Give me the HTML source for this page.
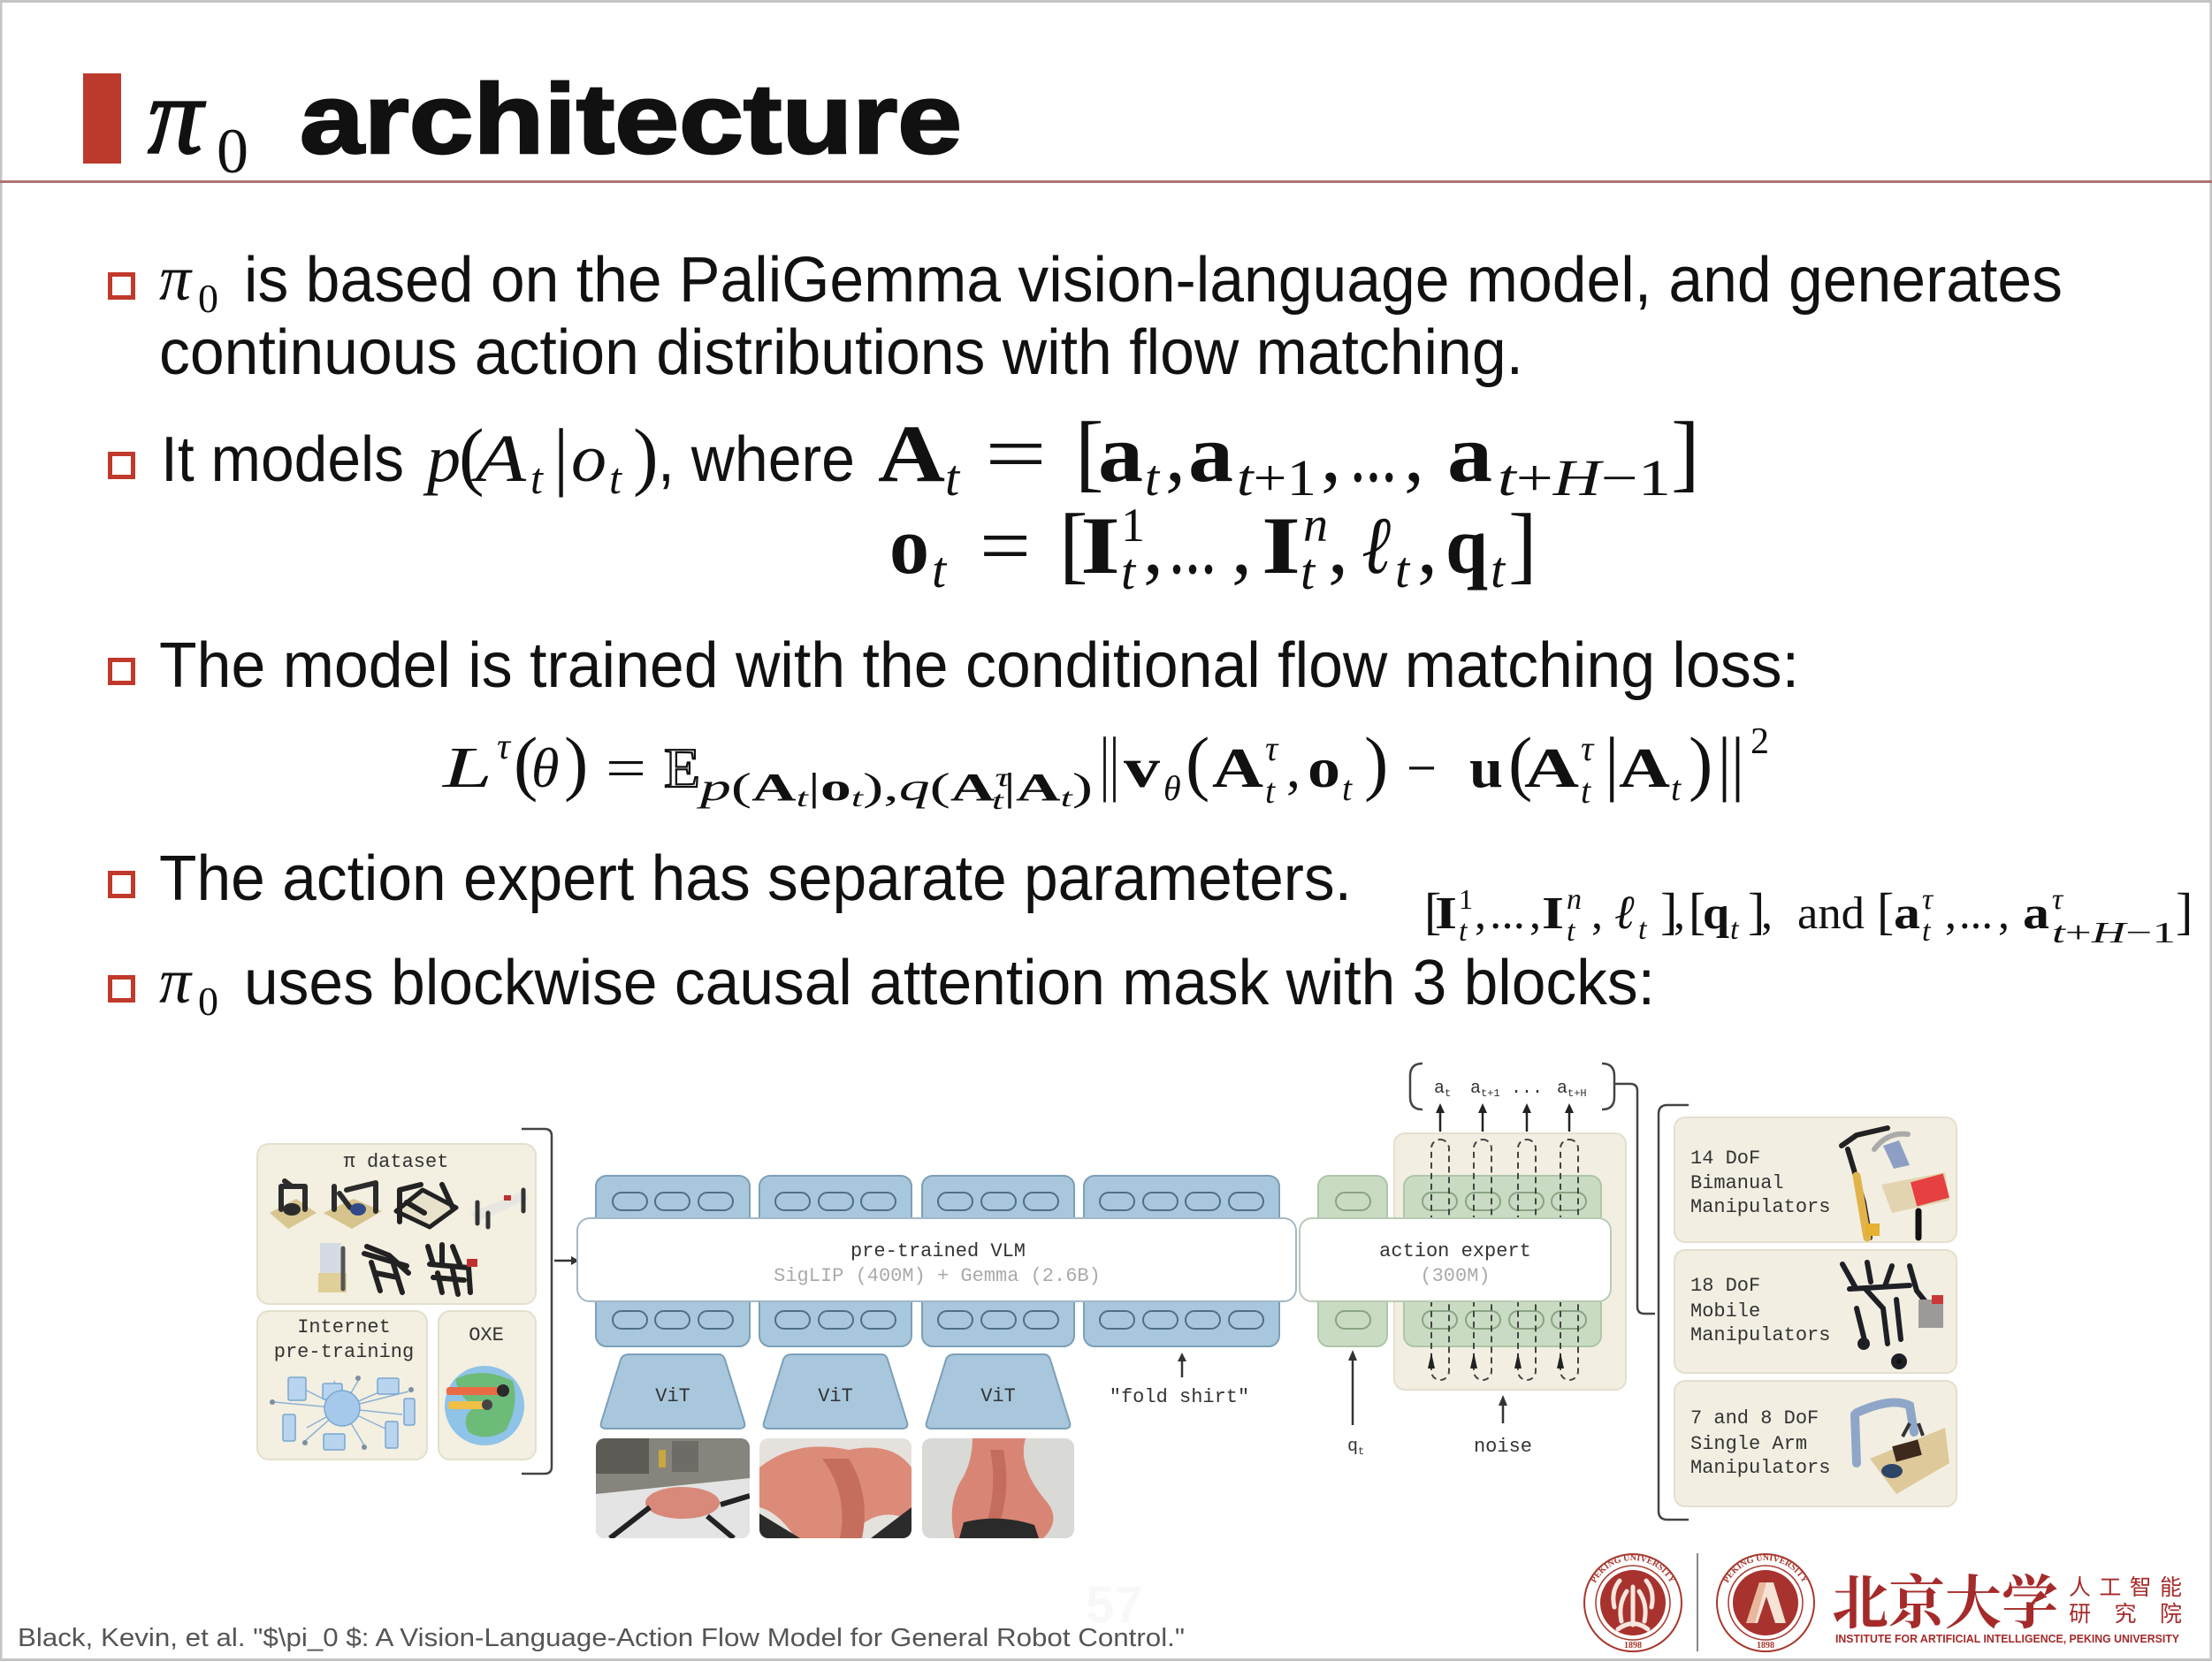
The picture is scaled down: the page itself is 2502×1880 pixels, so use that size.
<!DOCTYPE html>
<html><head><meta charset="utf-8"><style>
html,body{margin:0;padding:0;background:#fff;}
svg{display:block;}
.s{font-family:"Liberation Sans",sans-serif;font-size:72px;fill:#111;}
.m{font-family:"Liberation Serif",serif;fill:#111;}
.i{font-style:italic;}
.b{font-weight:bold;}
.mono{font-family:"Liberation Mono","DejaVu Sans Mono",monospace;font-size:22px;fill:#333;}
</style></head><body>
<svg width="2502" height="1880" viewBox="0 0 2502 1880" xmlns="http://www.w3.org/2000/svg">
<defs>
<clipPath id="c1"><rect x="674" y="1627" width="174" height="113" rx="10"/></clipPath>
<clipPath id="c2"><rect x="859" y="1627" width="172" height="113" rx="10"/></clipPath>
<clipPath id="c3"><rect x="1043" y="1627" width="172" height="113" rx="10"/></clipPath>
<path id="arc1" d="M1799,1813 A48,48 0 0 1 1895,1813"/>
<path id="arc2" d="M1949,1813 A48,48 0 0 1 2045,1813"/>
</defs>
<rect x="0" y="0" width="2502" height="1880" fill="#fff"/>
<rect x="1" y="1.5" width="2500" height="1876" fill="none" stroke="#c4c4c4" stroke-width="3"/>

<!-- Title -->
<rect x="94" y="83" width="43" height="102" fill="#bb3a2c"/>
<text class="m i" x="167" y="173" font-size="125" stroke="#111" stroke-width="2">π</text>
<text class="m" x="245" y="195" font-size="72">0</text>
<text x="339" y="173" font-family="Liberation Sans,sans-serif" font-weight="bold" font-size="112" fill="#111" stroke="#111" stroke-width="2.5" textLength="749" lengthAdjust="spacingAndGlyphs">architecture</text>
<rect x="0" y="204" width="2502" height="3" fill="#ad7474"/>

<!-- bullets -->
<g fill="none" stroke="#c0392b" stroke-width="5">
<rect x="124.5" y="310.5" width="26" height="26"/>
<rect x="124.5" y="513.5" width="26" height="26"/>
<rect x="124.5" y="746.5" width="26" height="26"/>
<rect x="124.5" y="987.5" width="26" height="26"/>
<rect x="124.5" y="1105.5" width="26" height="26"/>
</g>

<!-- bullet 1 -->
<text class="m i" x="180" y="339" font-size="72">π</text>
<text class="m" x="224" y="353" font-size="46">0</text>
<text class="s" x="276" y="341" textLength="2057" lengthAdjust="spacingAndGlyphs">is based on the PaliGemma vision-language model, and generates</text>
<text class="s" x="180" y="423" textLength="1543" lengthAdjust="spacingAndGlyphs">continuous action distributions with flow matching.</text>

<!-- bullet 2 -->
<text class="s" x="182" y="544" textLength="275" lengthAdjust="spacingAndGlyphs">It models</text>
<g class="m">
<text class="i" x="483" y="544" font-size="76">p</text>
<text x="519" y="544" font-size="86">(</text>
<text class="i" x="538" y="544" font-size="76" textLength="57" lengthAdjust="spacingAndGlyphs">A</text>
<text class="i" x="600" y="558" font-size="50">t</text>
<text x="626" y="544" font-size="86">|</text>
<text class="i" x="646" y="544" font-size="76" textLength="40" lengthAdjust="spacingAndGlyphs">o</text>
<text class="i" x="689" y="558" font-size="50">t</text>
<text x="716" y="544" font-size="86">)</text>
</g>
<text class="s" x="744" y="544" textLength="223" lengthAdjust="spacingAndGlyphs">, where</text>
<g class="m">
<text class="b" x="993" y="544" font-size="92" textLength="76" lengthAdjust="spacingAndGlyphs">A</text>
<text class="i" x="1069" y="560" font-size="58">t</text>
<text x="1114" y="544" font-size="92" textLength="70" lengthAdjust="spacingAndGlyphs">=</text>
<text x="1216" y="544" font-size="98">[</text>
<text class="b" x="1242" y="544" font-size="92" textLength="51" lengthAdjust="spacingAndGlyphs">a</text>
<text class="i" x="1295" y="560" font-size="58">t</text>
<text x="1318" y="544" font-size="92">,</text>
<text class="b" x="1344" y="544" font-size="92" textLength="51" lengthAdjust="spacingAndGlyphs">a</text>
<text x="1399" y="560" font-size="58" textLength="90" lengthAdjust="spacingAndGlyphs"><tspan class="i">t</tspan>+1</text>
<text x="1494" y="544" font-size="92">,</text>
<text x="1527" y="544" font-size="92" textLength="53" lengthAdjust="spacingAndGlyphs">...</text>
<text x="1588" y="544" font-size="92">,</text>
<text class="b" x="1637" y="544" font-size="92" textLength="51" lengthAdjust="spacingAndGlyphs">a</text>
<text x="1694" y="560" font-size="58" textLength="196" lengthAdjust="spacingAndGlyphs"><tspan class="i">t</tspan>+<tspan class="i">H</tspan>−1</text>
<text x="1890" y="544" font-size="98">]</text>

<!-- o_t line -->
<text class="b" x="1006" y="648" font-size="92" textLength="45" lengthAdjust="spacingAndGlyphs">o</text>
<text class="i" x="1054" y="664" font-size="58">t</text>
<text x="1108" y="648" font-size="92" textLength="58" lengthAdjust="spacingAndGlyphs">=</text>
<text x="1198" y="648" font-size="98">[</text>
<text class="b" x="1222" y="648" font-size="92" textLength="45" lengthAdjust="spacingAndGlyphs">I</text>
<text x="1268" y="612" font-size="54">1</text>
<text class="i" x="1268" y="666" font-size="58">t</text>
<text x="1293" y="648" font-size="92">,</text>
<text x="1322" y="648" font-size="92" textLength="54" lengthAdjust="spacingAndGlyphs">...</text>
<text x="1393" y="648" font-size="92">,</text>
<text class="b" x="1427" y="648" font-size="92" textLength="44" lengthAdjust="spacingAndGlyphs">I</text>
<text class="i" x="1474" y="612" font-size="56">n</text>
<text class="i" x="1471" y="666" font-size="58">t</text>
<text x="1502" y="648" font-size="92">,</text>
<text class="i" x="1540" y="648" font-size="92" textLength="33" lengthAdjust="spacingAndGlyphs">ℓ</text>
<text class="i" x="1578" y="664" font-size="58">t</text>
<text x="1603" y="648" font-size="92">,</text>
<text class="b" x="1635" y="648" font-size="92" textLength="48" lengthAdjust="spacingAndGlyphs">q</text>
<text class="i" x="1686" y="664" font-size="58">t</text>
<text x="1706" y="648" font-size="98">]</text>
</g>

<!-- bullet 3 -->
<text class="s" x="180" y="777" textLength="1855" lengthAdjust="spacingAndGlyphs">The model is trained with the conditional flow matching loss:</text>

<!-- loss formula -->
<g class="m">
<text class="i" x="501" y="890" font-size="66" textLength="56" lengthAdjust="spacingAndGlyphs">L</text>
<text class="i" x="562" y="858" font-size="42">τ</text>
<text x="581" y="890" font-size="82">(</text>
<text class="i" x="601" y="890" font-size="64">θ</text>
<text x="638" y="890" font-size="82">)</text>
<text x="685" y="890" font-size="64" textLength="46" lengthAdjust="spacingAndGlyphs">=</text>
<text x="751" y="890" font-size="64" fill="#fff" stroke="#111" stroke-width="2.2" textLength="41" lengthAdjust="spacingAndGlyphs">E</text>
<text x="792" y="905" font-size="44" textLength="444" lengthAdjust="spacingAndGlyphs"><tspan class="i">p</tspan>(<tspan class="b">A</tspan><tspan class="i" font-size="30" dy="7">t</tspan><tspan dy="-7">|</tspan><tspan class="b">o</tspan><tspan class="i" font-size="30" dy="7">t</tspan><tspan dy="-7">),</tspan><tspan class="i">q</tspan>(<tspan class="b">A</tspan><tspan class="i" font-size="30" dy="-16">τ</tspan><tspan class="i" font-size="30" dy="26" dx="-13">t</tspan><tspan dy="-10">|</tspan><tspan class="b">A</tspan><tspan class="i" font-size="30" dy="7">t</tspan><tspan dy="-7">)</tspan></text>
<text x="1244" y="890" font-size="82" textLength="22" lengthAdjust="spacingAndGlyphs">||</text>
<text class="b" x="1271" y="890" font-size="64" textLength="41" lengthAdjust="spacingAndGlyphs">v</text>
<text class="i" x="1316" y="905" font-size="40">θ</text>
<text x="1341" y="890" font-size="82">(</text>
<text class="b" x="1371" y="890" font-size="64" textLength="58" lengthAdjust="spacingAndGlyphs">A</text>
<text class="i" x="1431" y="860" font-size="40">τ</text>
<text class="i" x="1431" y="908" font-size="40">t</text>
<text x="1455" y="890" font-size="64">,</text>
<text class="b" x="1479" y="890" font-size="64" textLength="37" lengthAdjust="spacingAndGlyphs">o</text>
<text class="i" x="1518" y="905" font-size="40">t</text>
<text x="1543" y="890" font-size="82">)</text>
<text x="1591" y="890" font-size="64" textLength="34" lengthAdjust="spacingAndGlyphs">−</text>
<text class="b" x="1662" y="890" font-size="64" textLength="38" lengthAdjust="spacingAndGlyphs">u</text>
<text x="1706" y="890" font-size="82">(</text>
<text class="b" x="1724" y="890" font-size="64" textLength="62" lengthAdjust="spacingAndGlyphs">A</text>
<text class="i" x="1788" y="860" font-size="40">τ</text>
<text class="i" x="1788" y="908" font-size="40">t</text>
<text x="1815" y="890" font-size="82">|</text>
<text class="b" x="1831" y="890" font-size="64" textLength="58" lengthAdjust="spacingAndGlyphs">A</text>
<text class="i" x="1890" y="905" font-size="40">t</text>
<text x="1910" y="890" font-size="82">)</text>
<text x="1943" y="890" font-size="82" textLength="30" lengthAdjust="spacingAndGlyphs">||</text>
<text x="1980" y="852" font-size="42">2</text>
</g>

<!-- bullet 4 -->
<text class="s" x="180" y="1018" textLength="1349" lengthAdjust="spacingAndGlyphs">The action expert has separate parameters.</text>
<g class="m">
<text x="1611" y="1050" font-size="58">[</text>
<text class="b" x="1623" y="1050" font-size="52" textLength="25" lengthAdjust="spacingAndGlyphs">I</text>
<text x="1650" y="1028" font-size="32">1</text>
<text class="i" x="1650" y="1064" font-size="34">t</text>
<text x="1668" y="1050" font-size="52">,</text>
<text x="1685" y="1050" font-size="52" textLength="40" lengthAdjust="spacingAndGlyphs">...</text>
<text x="1730" y="1050" font-size="52">,</text>
<text class="b" x="1744" y="1050" font-size="52" textLength="25" lengthAdjust="spacingAndGlyphs">I</text>
<text class="i" x="1772" y="1028" font-size="34">n</text>
<text class="i" x="1772" y="1064" font-size="34">t</text>
<text x="1800" y="1050" font-size="52">,</text>
<text class="i" x="1826" y="1050" font-size="54">ℓ</text>
<text class="i" x="1853" y="1062" font-size="34">t</text>
<text x="1878" y="1050" font-size="58">]</text>
<text x="1893" y="1050" font-size="52">,</text>
<text x="1910" y="1050" font-size="58">[</text>
<text class="b" x="1926" y="1050" font-size="52" textLength="30" lengthAdjust="spacingAndGlyphs">q</text>
<text class="i" x="1957" y="1062" font-size="34">t</text>
<text x="1977" y="1050" font-size="58">]</text>
<text x="1992" y="1050" font-size="52">,</text>
<text x="2033" y="1050" font-size="52" textLength="76" lengthAdjust="spacingAndGlyphs">and</text>
<text x="2123" y="1050" font-size="58">[</text>
<text class="b" x="2142" y="1050" font-size="52" textLength="30" lengthAdjust="spacingAndGlyphs">a</text>
<text class="i" x="2174" y="1028" font-size="34">τ</text>
<text class="i" x="2174" y="1064" font-size="34">t</text>
<text x="2200" y="1050" font-size="52">,</text>
<text x="2216" y="1050" font-size="52" textLength="38" lengthAdjust="spacingAndGlyphs">...</text>
<text x="2260" y="1050" font-size="52">,</text>
<text class="b" x="2288" y="1050" font-size="52" textLength="30" lengthAdjust="spacingAndGlyphs">a</text>
<text class="i" x="2321" y="1028" font-size="34">τ</text>
<text x="2321" y="1066" font-size="34" textLength="140" lengthAdjust="spacingAndGlyphs"><tspan class="i">t</tspan>+<tspan class="i">H</tspan>−1</text>
<text x="2461" y="1050" font-size="58">]</text>
</g>

<!-- bullet 5 -->
<text class="m i" x="180" y="1134" font-size="72">π</text>
<text class="m" x="224" y="1148" font-size="46">0</text>
<text class="s" x="276" y="1136" textLength="1596" lengthAdjust="spacingAndGlyphs">uses blockwise causal attention mask with 3 blocks:</text>

<!-- ===== Diagram: left panel ===== -->
<g stroke="#e4dfcc" stroke-width="2" fill="#f3efe1">
<rect x="291" y="1294" width="315" height="181" rx="13"/>
<rect x="291" y="1483" width="192" height="168" rx="13"/>
<rect x="496" y="1483" width="110" height="168" rx="13"/>
</g>
<text class="mono" x="448" y="1320" text-anchor="middle">π dataset</text>
<text class="mono" x="389" y="1507" text-anchor="middle">Internet</text>
<text class="mono" x="389" y="1535" text-anchor="middle">pre-training</text>
<text class="mono" x="550" y="1516" text-anchor="middle">OXE</text>

<!-- robots in pi dataset -->
<g stroke-linecap="round" stroke-linejoin="round">
 <polygon points="305,1372 335,1356 358,1372 326,1390" fill="#d8c690"/>
 <path d="M318,1368 V1342 H345 V1368 M330,1342 L322,1336" stroke="#2c2c2c" stroke-width="6" fill="none"/>
 <ellipse cx="330" cy="1368" rx="10" ry="7" fill="#2c2c2c"/>
 <polygon points="366,1372 400,1356 432,1370 398,1390" fill="#d6c48c"/>
 <path d="M378,1368 V1342 M392,1346 L425,1338 V1370 M384,1350 L396,1366" stroke="#2c2c2c" stroke-width="6" fill="none"/>
 <ellipse cx="405" cy="1368" rx="9" ry="7" fill="#334a8a"/>
 <polygon points="448,1370 478,1346 516,1366 486,1388" fill="#e8e2cc" stroke="#222" stroke-width="5"/>
 <path d="M452,1382 V1346 L476,1340 M500,1340 L512,1366 M460,1360 L480,1372" stroke="#222" stroke-width="6" fill="none"/>
 <polygon points="532,1372 590,1348 598,1356 540,1382" fill="#e8e6e0"/>
 <path d="M540,1384 V1360 M592,1346 V1370 M552,1372 V1388" stroke="#333" stroke-width="5" fill="none"/>
 <rect x="570" y="1352" width="8" height="6" fill="#c03030"/>
 <rect x="362" y="1406" width="24" height="40" fill="#d6dbe3"/>
 <rect x="360" y="1440" width="32" height="22" fill="#e0cf98"/>
 <path d="M388,1412 V1458" stroke="#555" stroke-width="5"/>
 <path d="M415,1410 L440,1420 L462,1440 M420,1428 L430,1460 M445,1430 L455,1462 M412,1418 L460,1432 M425,1440 L450,1445" stroke="#222" stroke-width="6" fill="none"/>
 <path d="M484,1410 L490,1430 M500,1408 V1430 M512,1410 L520,1430 M486,1430 L530,1434 L532,1462 M495,1440 L500,1462 M512,1436 L518,1464 M490,1445 L525,1448" stroke="#222" stroke-width="6" fill="none"/>
 <rect x="528" y="1424" width="12" height="9" fill="#c03030"/>
</g>

<!-- internet network -->
<g stroke="#8cb2d4" stroke-width="1.5" fill="none">
 <line x1="387" y1="1593" x2="310" y2="1586"/><line x1="387" y1="1593" x2="345" y2="1572"/>
 <line x1="387" y1="1593" x2="378" y2="1562"/><line x1="387" y1="1593" x2="405" y2="1562"/>
 <line x1="387" y1="1593" x2="440" y2="1570"/><line x1="387" y1="1593" x2="462" y2="1574"/>
 <line x1="387" y1="1593" x2="455" y2="1600"/><line x1="387" y1="1593" x2="347" y2="1615"/>
 <line x1="387" y1="1593" x2="345" y2="1630"/><line x1="387" y1="1593" x2="412" y2="1635"/>
 <line x1="387" y1="1593" x2="440" y2="1618"/>
</g>
<g fill="#b9d4ee" stroke="#79a7d1" stroke-width="1.5">
 <rect x="326" y="1558" width="20" height="26" rx="2"/>
 <rect x="365" y="1565" width="22" height="18" rx="2"/>
 <rect x="427" y="1559" width="24" height="18" rx="2"/>
 <rect x="457" y="1582" width="12" height="30" rx="2"/>
 <rect x="320" y="1600" width="14" height="30" rx="2"/>
 <rect x="366" y="1622" width="24" height="18" rx="2"/>
 <rect x="436" y="1608" width="14" height="30" rx="2"/>
 <circle cx="387" cy="1593" r="20" fill="#a6c8ea"/>
</g>
<g fill="#7d8fa0"><circle cx="308" cy="1586" r="3"/><circle cx="405" cy="1559" r="3"/><circle cx="465" cy="1572" r="3"/><circle cx="345" cy="1632" r="3"/><circle cx="412" cy="1637" r="3"/></g>

<!-- OXE globe -->
<circle cx="548" cy="1590" r="45" fill="#8fc3e8"/>
<path d="M515,1560 Q545,1545 580,1562 Q588,1590 572,1618 Q550,1632 530,1620 Q520,1600 540,1590 Q520,1585 515,1560Z" fill="#6dbb78"/>
<rect x="505" y="1569" width="65" height="9" rx="3" fill="#ea6a45"/>
<rect x="507" y="1585" width="42" height="9" rx="3" fill="#f0bf45"/>
<circle cx="569" cy="1573" r="7" fill="#2a2a2a"/>
<circle cx="551" cy="1589" r="6" fill="#444"/>

<!-- left bracket & arrow -->
<path d="M590,1277 H616 Q624,1277 624,1285 V1659 Q624,1667 616,1667 H590" fill="none" stroke="#444" stroke-width="2.5"/>
<line x1="627" y1="1426" x2="648" y2="1426" stroke="#333" stroke-width="2.5"/>
<polygon points="655,1426 646,1421 646,1431" fill="#333"/>

<!-- ===== VLM ===== -->
<g fill="#a9c7dc" stroke="#7c9fb8" stroke-width="2">
 <rect x="674" y="1330" width="174" height="193" rx="12"/>
 <rect x="859" y="1330" width="172" height="193" rx="12"/>
 <rect x="1043" y="1330" width="172" height="193" rx="12"/>
 <rect x="1226" y="1330" width="221" height="193" rx="12"/>
</g>
<g fill="none" stroke="#4f6f86" stroke-width="2">
 <rect x="693" y="1349" width="39" height="20" rx="10"/><rect x="741" y="1349" width="39" height="20" rx="10"/><rect x="790" y="1349" width="39" height="20" rx="10"/>
 <rect x="877" y="1349" width="39" height="20" rx="10"/><rect x="926" y="1349" width="39" height="20" rx="10"/><rect x="974" y="1349" width="39" height="20" rx="10"/>
 <rect x="1061" y="1349" width="39" height="20" rx="10"/><rect x="1110" y="1349" width="39" height="20" rx="10"/><rect x="1158" y="1349" width="39" height="20" rx="10"/>
 <rect x="1244" y="1349" width="39" height="20" rx="10"/><rect x="1293" y="1349" width="39" height="20" rx="10"/><rect x="1341" y="1349" width="39" height="20" rx="10"/><rect x="1390" y="1349" width="39" height="20" rx="10"/>
 <rect x="693" y="1483" width="39" height="20" rx="10"/><rect x="741" y="1483" width="39" height="20" rx="10"/><rect x="790" y="1483" width="39" height="20" rx="10"/>
 <rect x="877" y="1483" width="39" height="20" rx="10"/><rect x="926" y="1483" width="39" height="20" rx="10"/><rect x="974" y="1483" width="39" height="20" rx="10"/>
 <rect x="1061" y="1483" width="39" height="20" rx="10"/><rect x="1110" y="1483" width="39" height="20" rx="10"/><rect x="1158" y="1483" width="39" height="20" rx="10"/>
 <rect x="1244" y="1483" width="39" height="20" rx="10"/><rect x="1293" y="1483" width="39" height="20" rx="10"/><rect x="1341" y="1483" width="39" height="20" rx="10"/><rect x="1390" y="1483" width="39" height="20" rx="10"/>
</g>
<rect x="653" y="1378" width="813" height="94" rx="14" fill="#fff" stroke="#a3b8c8" stroke-width="2"/>
<text class="mono" x="1061" y="1421" text-anchor="middle">pre-trained VLM</text>
<text class="mono" x="1060" y="1449" text-anchor="middle" style="fill:#aaa">SigLIP (400M) + Gemma (2.6B)</text>

<!-- ViT -->
<g fill="#a9c7dc" stroke="#7c9fb8" stroke-width="2" stroke-linejoin="round">
 <path d="M718,1532 H813 Q818,1532 820,1538 L842,1609 Q844,1616 836,1616 H686 Q678,1616 680,1609 L702,1538 Q704,1532 712,1532Z"/>
 <path d="M902,1532 H997 Q1002,1532 1004,1538 L1026,1609 Q1028,1616 1020,1616 H870 Q862,1616 864,1609 L886,1538 Q888,1532 896,1532Z"/>
 <path d="M1086,1532 H1181 Q1186,1532 1188,1538 L1210,1609 Q1212,1616 1204,1616 H1054 Q1046,1616 1048,1609 L1070,1538 Q1072,1532 1080,1532Z"/>
</g>
<text class="mono" x="761" y="1585" text-anchor="middle">ViT</text>
<text class="mono" x="945" y="1585" text-anchor="middle">ViT</text>
<text class="mono" x="1129" y="1585" text-anchor="middle">ViT</text>

<!-- images -->
<g clip-path="url(#c1)">
 <rect x="674" y="1627" width="174" height="113" fill="#86847c"/>
 <rect x="674" y="1627" width="60" height="40" fill="#5c5b56"/>
 <rect x="760" y="1630" width="30" height="35" fill="#6e6c66"/>
 <rect x="745" y="1640" width="8" height="20" fill="#c9a640"/>
 <polygon points="674,1690 848,1672 848,1740 674,1740" fill="#e4e4e4"/>
 <ellipse cx="772" cy="1700" rx="42" ry="18" fill="#d8897a"/>
 <path d="M690,1740 L735,1705 M815,1702 L848,1692 M800,1715 L830,1740" stroke="#222" stroke-width="6" fill="none"/>
</g>
<g clip-path="url(#c2)">
 <rect x="859" y="1627" width="172" height="113" fill="#e5e2de"/>
 <path d="M859,1660 Q900,1627 960,1640 Q1010,1630 1031,1660 V1720 Q990,1700 960,1740 H900 Q880,1710 859,1705Z" fill="#dc8b79"/>
 <path d="M930,1650 Q960,1690 950,1740 H975 Q985,1690 960,1650Z" fill="#c66e5e"/>
 <polygon points="859,1712 905,1740 859,1740" fill="#2b2b2b"/>
 <polygon points="1031,1705 985,1740 1031,1740" fill="#2b2b2b"/>
</g>
<g clip-path="url(#c3)">
 <rect x="1043" y="1627" width="172" height="113" fill="#d9d9d5"/>
 <path d="M1100,1627 H1160 Q1150,1660 1185,1700 Q1200,1720 1180,1740 H1080 Q1070,1700 1090,1670 Q1100,1650 1100,1627Z" fill="#d98575"/>
 <path d="M1120,1640 Q1130,1690 1110,1740 H1125 Q1145,1690 1135,1640Z" fill="#c46c5d"/>
 <path d="M1090,1722 Q1130,1712 1170,1725 L1175,1740 H1085Z" fill="#2a2a2a"/>
</g>

<!-- fold shirt -->
<line x1="1337" y1="1558" x2="1337" y2="1538" stroke="#333" stroke-width="2.5"/>
<polygon points="1337,1530 1332,1540 1342,1540" fill="#333"/>
<text class="mono" x="1334" y="1586" text-anchor="middle">"fold shirt"</text>

<!-- ===== action expert ===== -->
<rect x="1577" y="1282" width="262" height="290" rx="12" fill="#f2efe2" stroke="#e3dfcf" stroke-width="2"/>
<rect x="1491" y="1330" width="78" height="193" rx="12" fill="#c9dcc3" stroke="#aec6a7" stroke-width="2"/>
<rect x="1588" y="1330" width="223" height="193" rx="12" fill="#c9dcc3" stroke="#aec6a7" stroke-width="2"/>
<g fill="none" stroke="#8aa384" stroke-width="2">
 <rect x="1511" y="1349" width="39" height="20" rx="10"/><rect x="1511" y="1483" width="39" height="20" rx="10"/>
 <rect x="1609" y="1349" width="39" height="20" rx="10"/><rect x="1658" y="1349" width="39" height="20" rx="10"/><rect x="1707" y="1349" width="39" height="20" rx="10"/><rect x="1755" y="1349" width="39" height="20" rx="10"/>
 <rect x="1609" y="1483" width="39" height="20" rx="10"/><rect x="1658" y="1483" width="39" height="20" rx="10"/><rect x="1707" y="1483" width="39" height="20" rx="10"/><rect x="1755" y="1483" width="39" height="20" rx="10"/>
</g>
<g fill="none" stroke="#444" stroke-width="2" stroke-dasharray="7 5">
 <rect x="1619" y="1289" width="20" height="272" rx="10"/>
 <rect x="1667" y="1289" width="20" height="272" rx="10"/>
 <rect x="1717" y="1289" width="20" height="272" rx="10"/>
 <rect x="1765" y="1289" width="20" height="272" rx="10"/>
</g>
<g fill="#222">
 <polygon points="1619,1530 1615,1548 1623,1548"/>
 <polygon points="1667,1530 1663,1548 1671,1548"/>
 <polygon points="1717,1530 1713,1548 1721,1548"/>
 <polygon points="1765,1530 1761,1548 1769,1548"/>
</g>
<rect x="1470" y="1378" width="352" height="94" rx="14" fill="#fff" stroke="#b9cbb3" stroke-width="2"/>
<text class="mono" x="1646" y="1421" text-anchor="middle">action expert</text>
<text class="mono" x="1646" y="1449" text-anchor="middle" style="fill:#aaa">(300M)</text>

<!-- output arrows -->
<g stroke="#222" stroke-width="2.5">
 <line x1="1629" y1="1280" x2="1629" y2="1256"/><line x1="1677" y1="1280" x2="1677" y2="1256"/>
 <line x1="1727" y1="1280" x2="1727" y2="1256"/><line x1="1775" y1="1280" x2="1775" y2="1256"/>
</g>
<g fill="#222">
 <polygon points="1629,1248 1624,1259 1634,1259"/><polygon points="1677,1248 1672,1259 1682,1259"/>
 <polygon points="1727,1248 1722,1259 1732,1259"/><polygon points="1775,1248 1770,1259 1780,1259"/>
</g>
<g class="mono">
 <text x="1622" y="1236" style="font-size:20px">a<tspan style="font-size:12px" dy="4">t</tspan></text>
 <text x="1663" y="1236" style="font-size:20px">a<tspan style="font-size:12px" dy="4">t+1</tspan></text>
 <text x="1727" y="1236" text-anchor="middle" style="font-size:20px">...</text>
 <text x="1761" y="1236" style="font-size:20px">a<tspan style="font-size:12px" dy="4">t+H</tspan></text>
</g>
<g fill="none" stroke="#444" stroke-width="2.5">
 <path d="M1609,1203 Q1595,1203 1595,1217 V1241 Q1595,1255 1609,1255"/>
 <path d="M1812,1203 Q1826,1203 1826,1217 V1241 Q1826,1255 1812,1255"/>
 <path d="M1827,1226 H1844 Q1852,1226 1852,1234 V1478 Q1852,1486 1860,1486 H1872"/>
 <path d="M1910,1250 H1886 Q1876,1250 1876,1260 V1709 Q1876,1719 1886,1719 H1910"/>
</g>
<!-- q and noise -->
<line x1="1530" y1="1612" x2="1530" y2="1536" stroke="#333" stroke-width="2.5"/>
<polygon points="1530,1527 1525,1539 1535,1539" fill="#333"/>
<text class="mono" x="1524" y="1641" style="font-size:20px">q<tspan style="font-size:12px" dy="4">t</tspan></text>
<line x1="1700" y1="1610" x2="1700" y2="1586" stroke="#333" stroke-width="2.5"/>
<polygon points="1700,1578 1695,1590 1705,1590" fill="#333"/>
<text class="mono" x="1700" y="1642" text-anchor="middle">noise</text>

<!-- robot panels -->
<g fill="#f2efe2" stroke="#e3dfcf" stroke-width="2">
 <rect x="1894" y="1264" width="319" height="141" rx="12"/>
 <rect x="1894" y="1414" width="319" height="139" rx="12"/>
 <rect x="1894" y="1562" width="319" height="142" rx="12"/>
</g>
<text class="mono" x="1912" y="1316">14 DoF</text>
<text class="mono" x="1912" y="1344">Bimanual</text>
<text class="mono" x="1912" y="1371">Manipulators</text>
<text class="mono" x="1912" y="1460">18 DoF</text>
<text class="mono" x="1912" y="1489">Mobile</text>
<text class="mono" x="1912" y="1516">Manipulators</text>
<text class="mono" x="1912" y="1610">7 and 8 DoF</text>
<text class="mono" x="1912" y="1639">Single Arm</text>
<text class="mono" x="1912" y="1666">Manipulators</text>

<!-- robot 1 -->
<g stroke-linecap="round" stroke-linejoin="round">
 <polygon points="2128,1340 2200,1326 2205,1358 2140,1372" fill="#e2d4b0"/>
 <rect x="2164" y="1332" width="38" height="28" fill="#e64040" transform="rotate(-15 2183 1346)"/>
 <path d="M2120,1300 Q2135,1280 2158,1283" stroke="#aaa" stroke-width="6" fill="none"/>
 <path d="M2083,1296 L2100,1284 L2135,1276 M2090,1300 L2108,1360 L2115,1400" stroke="#222" stroke-width="6" fill="none"/>
 <path d="M2100,1330 L2112,1400" stroke="#e2b34a" stroke-width="9"/>
 <rect x="2110" y="1384" width="16" height="14" fill="#e6b030"/>
 <path d="M2170,1370 V1400" stroke="#111" stroke-width="7"/>
 <polygon points="2130,1296 2148,1290 2160,1318 2142,1322" fill="#8d9fc4"/>
</g>
<!-- robot 2 -->
<g stroke="#1f1f26" stroke-width="6" fill="none" stroke-linecap="round">
 <path d="M2084,1430 L2098,1455 M2112,1428 L2116,1450 M2140,1432 L2132,1455 M2160,1432 L2168,1460 L2180,1475"/>
 <path d="M2092,1458 L2160,1454 M2110,1458 L2130,1480 L2135,1520 M2100,1480 L2110,1520 M2145,1470 L2150,1515"/>
 <circle cx="2148" cy="1540" r="6" fill="#111"/>
 <circle cx="2108" cy="1520" r="4" fill="#111"/>
</g>
<rect x="2170" y="1470" width="28" height="32" fill="#9c9a98"/>
<rect x="2185" y="1465" width="13" height="10" fill="#cc3838"/>
<!-- robot 3 -->
<polygon points="2115,1650 2200,1615 2205,1655 2145,1690" fill="#dec99a"/>
<path d="M2098,1600 L2100,1655 M2100,1598 Q2140,1580 2160,1590 L2165,1620" stroke="#8fa6c8" stroke-width="10" fill="none" stroke-linecap="round"/>
<rect x="2142" y="1632" width="30" height="18" fill="#3d2a1c" transform="rotate(-15 2157 1641)"/>
<ellipse cx="2140" cy="1664" rx="12" ry="8" fill="#2f4566"/>
<path d="M2160,1610 L2152,1625 M2170,1610 L2175,1624" stroke="#333" stroke-width="4"/>

<!-- ===== footer ===== -->
<text x="1228" y="1835" font-family="Liberation Sans,sans-serif" font-weight="bold" font-size="58" fill="#f8f8f8">57</text>
<text x="20" y="1862" font-family="Liberation Sans,sans-serif" font-size="29" fill="#555" textLength="1320" lengthAdjust="spacingAndGlyphs">Black, Kevin, et al. "$\pi_0 $: A Vision-Language-Action Flow Model for General Robot Control."</text>

<!-- logos -->
<circle cx="1847" cy="1813" r="55" fill="#fff" stroke="#a8382e" stroke-width="2"/>
<circle cx="1847" cy="1813" r="42" fill="none" stroke="#a8382e" stroke-width="1.5"/>
<circle cx="1847" cy="1813" r="37" fill="#a8322d"/>
<text font-family="Liberation Serif,serif" font-size="10" fill="#a8382e" font-weight="bold"><textPath href="#arc1" startOffset="50%" text-anchor="middle">PEKING UNIVERSITY</textPath></text>
<text x="1847" y="1864" text-anchor="middle" font-family="Liberation Serif,serif" font-size="10" fill="#a8382e" font-weight="bold">1898</text>
<g stroke="#f6e6e0" stroke-width="5" fill="none" stroke-linecap="round">
 <path d="M1832,1788 Q1822,1800 1826,1818 M1862,1788 Q1872,1800 1868,1818"/>
 <path d="M1840,1800 Q1830,1815 1834,1834 M1854,1800 Q1864,1815 1860,1834"/>
 <path d="M1847,1795 V1838 M1830,1843 Q1847,1830 1864,1843"/>
</g>
<line x1="1920" y1="1757" x2="1920" y2="1868" stroke="#888" stroke-width="2"/>
<circle cx="1997" cy="1813" r="55" fill="#fff" stroke="#a8382e" stroke-width="2"/>
<circle cx="1997" cy="1813" r="42" fill="none" stroke="#a8382e" stroke-width="1.5"/>
<circle cx="1997" cy="1813" r="37" fill="#a8322d"/>
<text font-family="Liberation Serif,serif" font-size="10" fill="#a8382e" font-weight="bold"><textPath href="#arc2" startOffset="50%" text-anchor="middle">PEKING UNIVERSITY</textPath></text>
<text x="1997" y="1864" text-anchor="middle" font-family="Liberation Serif,serif" font-size="10" fill="#a8382e" font-weight="bold">1898</text>
<polygon points="1990,1790 2006,1790 2020,1836 2008,1836 1998,1806 1988,1836 1975,1836" fill="#f7e2d6"/>
<polygon points="1990,1790 1998,1790 1985,1836 1975,1836" fill="#e9b79e"/>

<text x="2072" y="1836" font-family="Noto Serif CJK SC,serif" font-weight="bold" font-size="66" fill="#a52a2a" textLength="256" lengthAdjust="spacingAndGlyphs">北京大学</text>
<text x="2340" y="1804" font-family="Noto Sans CJK SC,sans-serif" font-size="25" fill="#a52a2a" textLength="128" lengthAdjust="spacing">人工智能</text>
<text x="2340" y="1834" font-family="Noto Sans CJK SC,sans-serif" font-size="25" fill="#a52a2a" textLength="128" lengthAdjust="spacing">研究院</text>
<text x="2076" y="1858" font-family="Liberation Sans,sans-serif" font-weight="bold" font-size="13" fill="#a52a2a" textLength="389" lengthAdjust="spacingAndGlyphs">INSTITUTE FOR ARTIFICIAL INTELLIGENCE, PEKING UNIVERSITY</text>
</svg>
</body></html>
